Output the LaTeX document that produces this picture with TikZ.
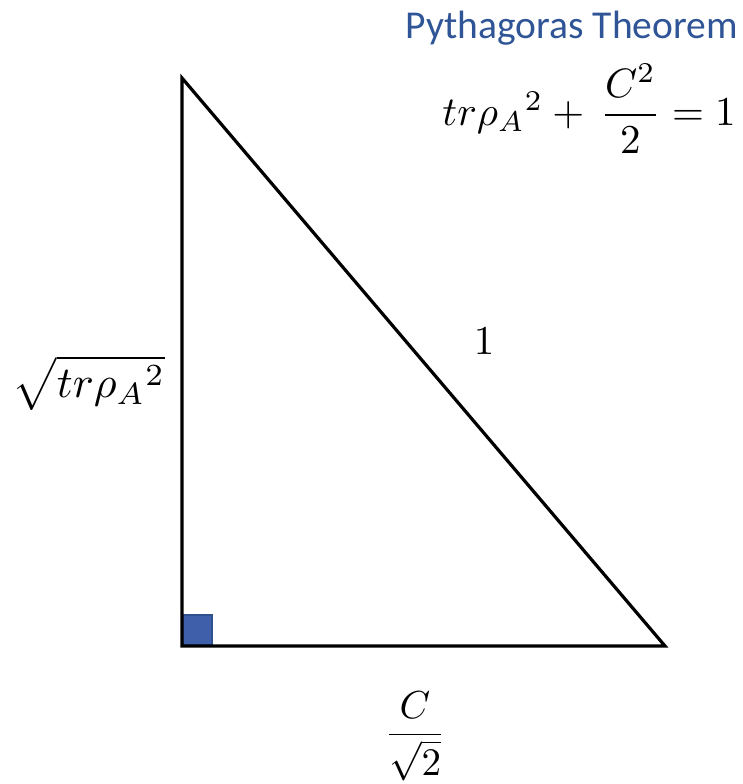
\documentclass[tikz,border=0pt]{standalone}
\usepackage{amsmath}
\usepackage{fontspec}
\newfontfamily\titlefont{Carlito}
\definecolor{titleblue}{RGB}{47,85,151}
\definecolor{sqfill}{RGB}{63,95,170}
\definecolor{sqborder}{RGB}{47,82,143}
\newcommand{\scaledmathx}[2][4.1]{\scalebox{#1}{$#2$}}
\begin{document}
\begin{tikzpicture}[x=1pt,y=-1pt,
  side/.style={line width=3.2pt,line join=miter},
  mathlbl/.style={inner sep=0pt},
  ttl/.style={inner sep=0pt,text=titleblue,font=\titlefont\fontsize{39.5}{46}\selectfont}]
\useasboundingbox (0,0) rectangle (743,784);
\coordinate (T) at (182,78);
\coordinate (O) at (182,646);
\coordinate (R) at (665,646);
\fill[sqfill,draw=sqborder,line width=1.2pt] (183,615) rectangle (212,645);
\draw[side] (T) -- (O) -- (R) -- cycle;
\node[ttl,anchor=base east] (title) at (738,38) {Pythagoras Theorem};
\node[mathlbl,anchor=base east] (eq) at (736,125) {\scaledmathx{tr\rho_A{}^2+\,\dfrac{C^2}{2}=1}};
\node[mathlbl] (hyp) at (484,341) {\scaledmathx{1}};
\node[mathlbl] (leg) at (89,383) {\scaledmathx[4.4]{\sqrt{tr\rho_A{}^2}}};
\node[mathlbl] (base) at (415,736) {\scaledmathx[3.9]{\dfrac{C}{\sqrt{2}}}};
\end{tikzpicture}
\end{document}
